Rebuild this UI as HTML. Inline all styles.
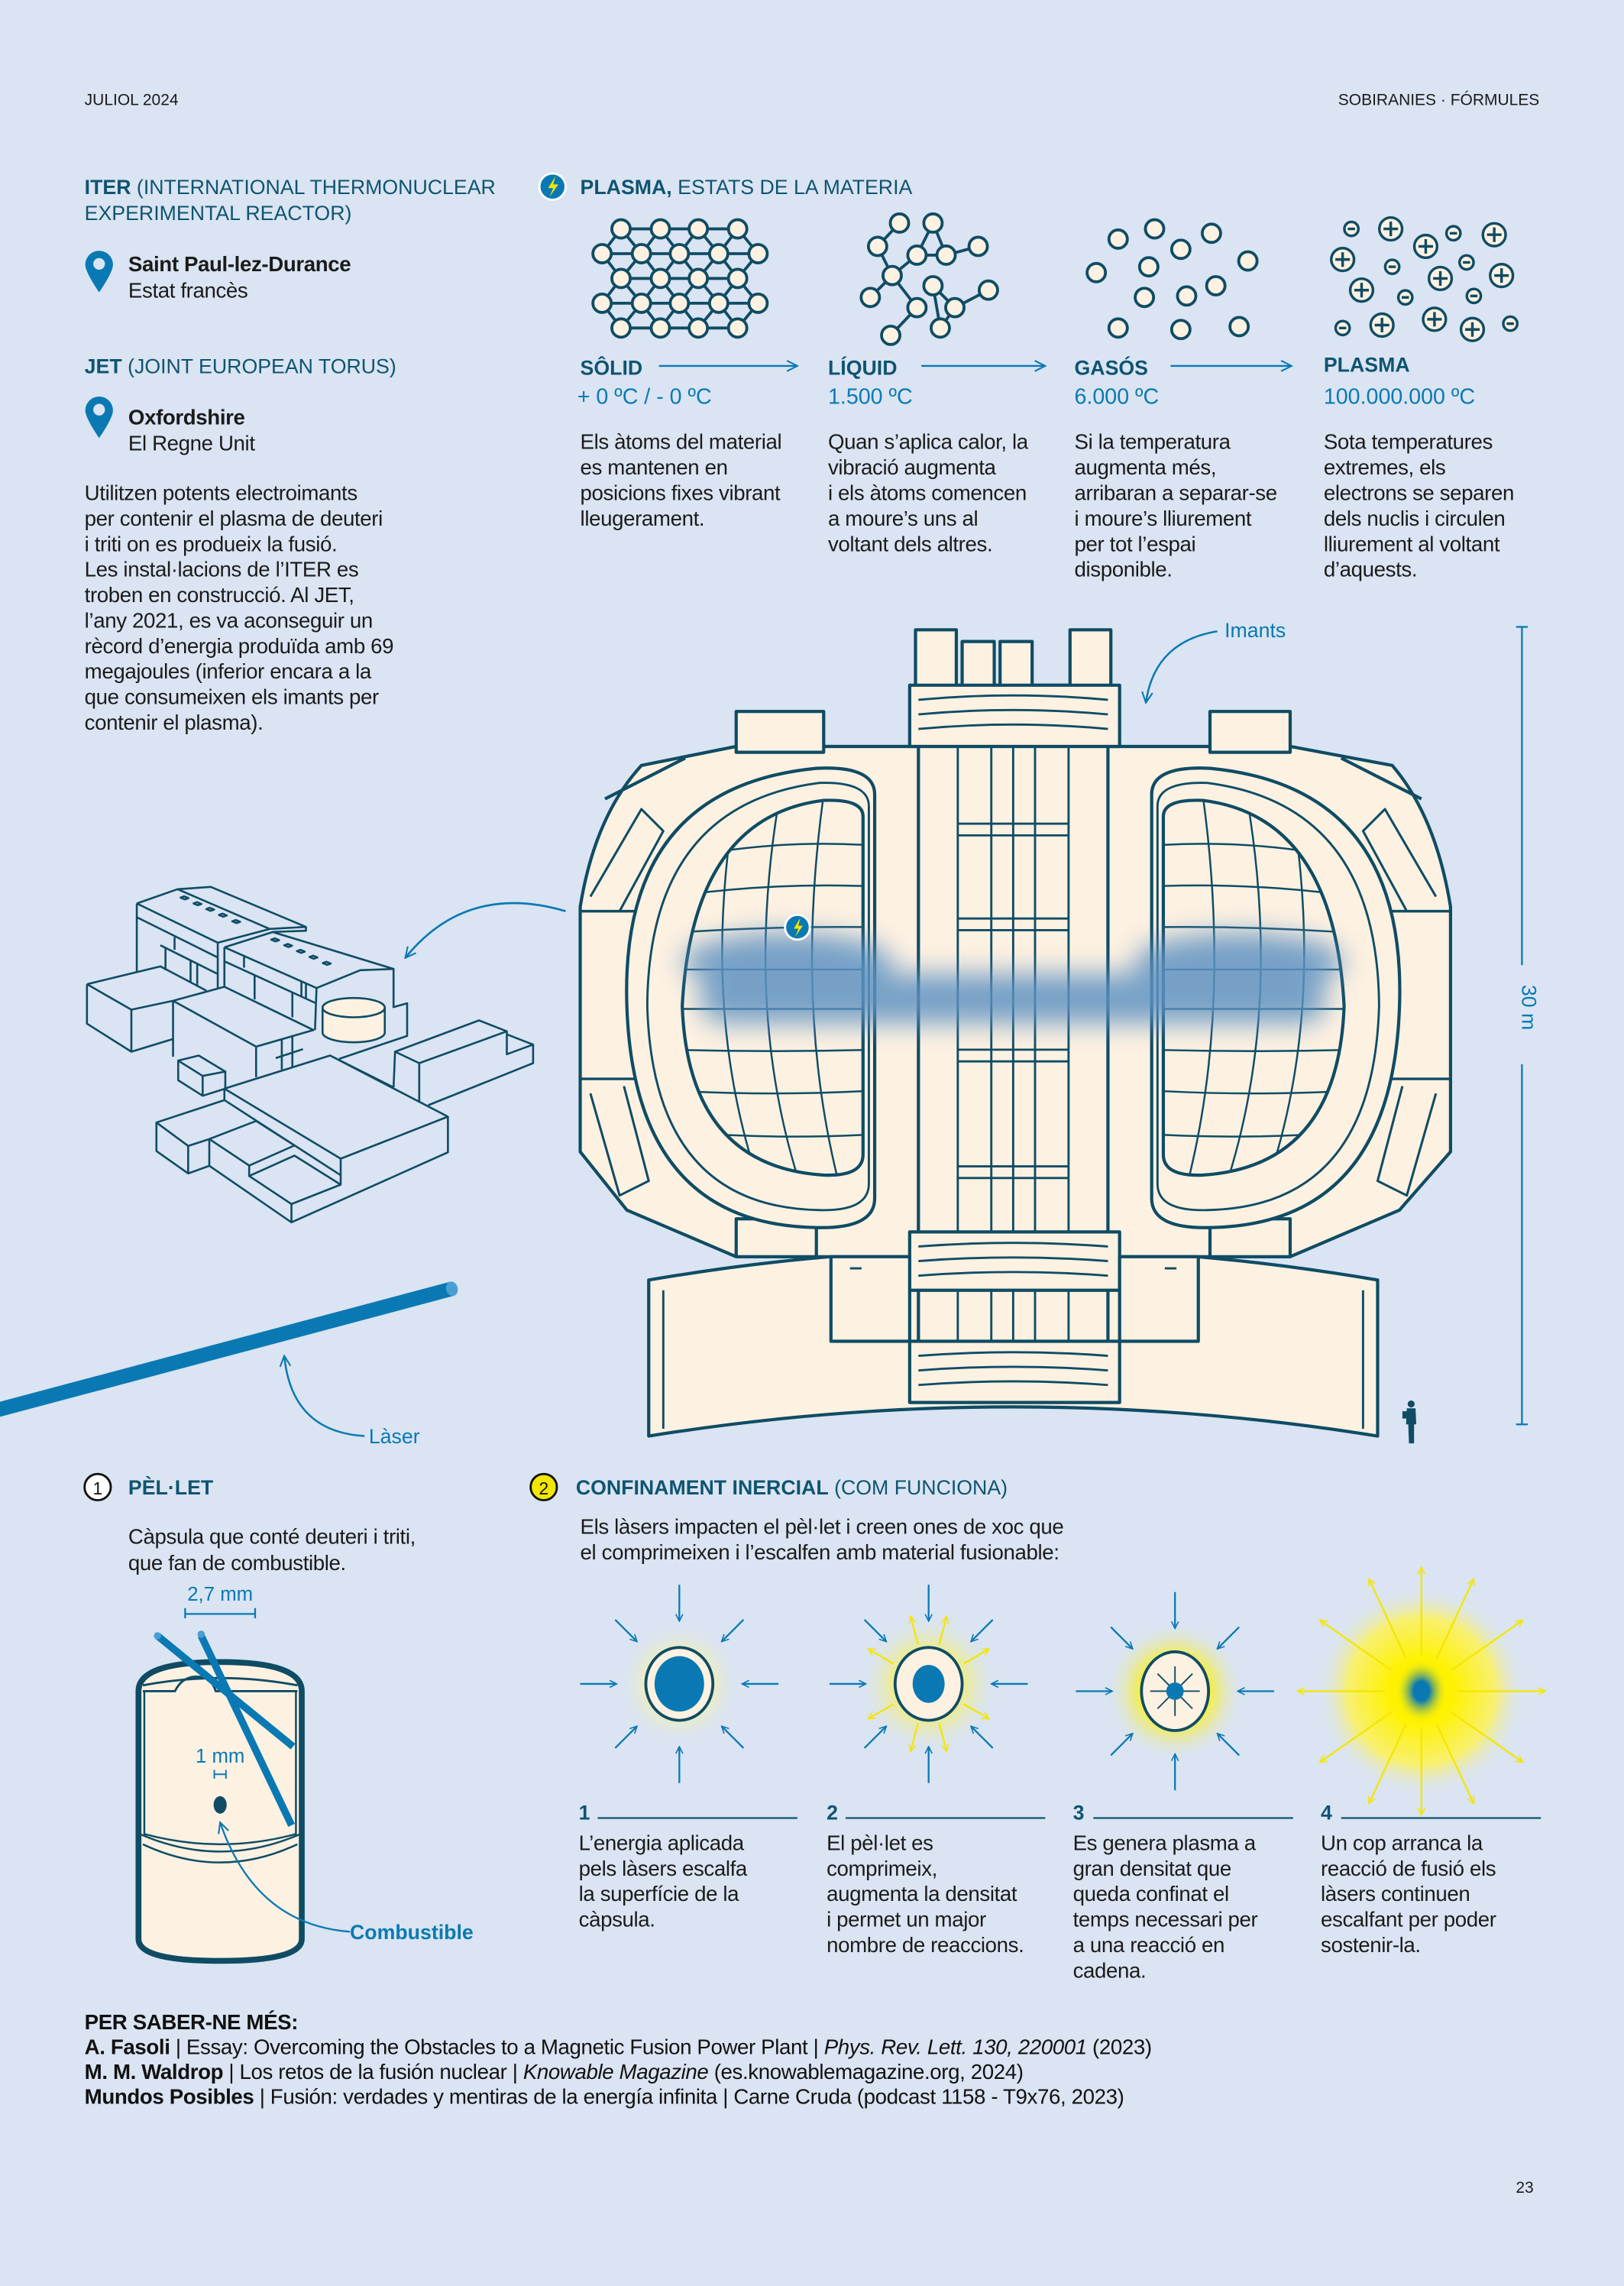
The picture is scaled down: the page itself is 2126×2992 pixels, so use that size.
<!DOCTYPE html>
<html><head><meta charset="utf-8">
<style>
html,body{margin:0;padding:0;background:#dae4f2;}
svg{display:block;}
text{font-family:"Liberation Sans",sans-serif;}
</style></head>
<body>
<svg width="2126" height="2992" viewBox="0 0 1114 1568" preserveAspectRatio="none" xmlns="http://www.w3.org/2000/svg">
<defs>
<marker id="ah" viewBox="0 0 10 10" refX="9" refY="5" markerWidth="6" markerHeight="6" orient="auto" markerUnits="userSpaceOnUse"><path d="M1,1 L9,5 L1,9" fill="none" stroke="#0a79b3" stroke-width="1.4"/></marker>
<marker id="ahy" viewBox="0 0 10 10" refX="9" refY="5" markerWidth="6" markerHeight="6" orient="auto" markerUnits="userSpaceOnUse"><path d="M1,1 L9,5 L1,9" fill="none" stroke="#f3e600" stroke-width="1.4"/></marker>
<marker id="ahb" viewBox="0 0 10 10" refX="9" refY="5" markerWidth="9" markerHeight="9" orient="auto" markerUnits="userSpaceOnUse"><path d="M1,1 L9,5 L1,9" fill="none" stroke="#0a79b3" stroke-width="1.2"/></marker>
<filter id="blur8" x="-30%" y="-100%" width="160%" height="300%"><feGaussianBlur stdDeviation="9"/></filter>
<radialGradient id="g1"><stop offset="0.45" stop-color="#f6f2a8"/><stop offset="1" stop-color="#dae4f2" stop-opacity="0"/></radialGradient>
<radialGradient id="g2"><stop offset="0.4" stop-color="#f8f060"/><stop offset="1" stop-color="#dae4f2" stop-opacity="0"/></radialGradient>
<radialGradient id="g3"><stop offset="0.45" stop-color="#fbf020"/><stop offset="1" stop-color="#dae4f2" stop-opacity="0"/></radialGradient>
<radialGradient id="g4"><stop offset="0.3" stop-color="#fff200"/><stop offset="0.7" stop-color="#f8f070"/><stop offset="1" stop-color="#dae4f2" stop-opacity="0"/></radialGradient>
<radialGradient id="core4"><stop offset="0.3" stop-color="#0a79b3"/><stop offset="1" stop-color="#fff200" stop-opacity="0"/></radialGradient>
<g id="inarr" stroke="#0a79b3" stroke-width="1.2" fill="none">
<line x1="0" y1="-68" x2="0" y2="-43" marker-end="url(#ah)"/>
<line x1="0" y1="68" x2="0" y2="43" marker-end="url(#ah)"/>
<line x1="-68" y1="0" x2="-43" y2="0" marker-end="url(#ah)"/>
<line x1="68" y1="0" x2="43" y2="0" marker-end="url(#ah)"/>
<line x1="-44" y1="-44" x2="-29" y2="-29" marker-end="url(#ah)"/>
<line x1="44" y1="-44" x2="29" y2="-29" marker-end="url(#ah)"/>
<line x1="-44" y1="44" x2="-29" y2="29" marker-end="url(#ah)"/>
<line x1="44" y1="44" x2="29" y2="29" marker-end="url(#ah)"/>
</g>
<g id="yo"><line x1="0" y1="-28" x2="0" y2="-48" stroke="#f3e600" stroke-width="1.2" marker-end="url(#ahy)"/></g>
<g id="yo4"><line x1="0" y1="-25" x2="0" y2="-85" stroke="#f3e600" stroke-width="1.2" marker-end="url(#ahy)"/></g>
<clipPath id="dclip"><path d="M592,560 Q592,548 565,549 Q475,560 468,690 Q472,800 565,806 Q592,807 592,792 Z"/></clipPath>
</defs>

<rect width="1114" height="1568" fill="#dae4f2"/>

<!-- header -->
<text x="58" y="72" font-size="11" fill="#1b1b1b">JULIOL 2024</text>
<text x="1056" y="72" font-size="11" fill="#1b1b1b" text-anchor="end">SOBIRANIES · FÓRMULES</text>
<text x="1052" y="1504" font-size="11" fill="#1b1b1b" text-anchor="end">23</text>

<!-- ITER / JET -->
<g font-size="14" fill="#0f5470">
<text x="58" y="133"><tspan font-weight="bold">ITER</tspan> (INTERNATIONAL THERMONUCLEAR</text>
<text x="58" y="151">EXPERIMENTAL REACTOR)</text>
<text x="58" y="256"><tspan font-weight="bold">JET</tspan>  (JOINT EUROPEAN TORUS)</text>
</g>
<g fill="#0a79b3">
<path d="M68,172 a9.5,9.5 0 0 1 9.5,9.5 q0,5 -9.5,19 q-9.5,-14 -9.5,-19 a9.5,9.5 0 0 1 9.5,-9.5 z"/>
<path d="M68,272 a9.5,9.5 0 0 1 9.5,9.5 q0,5 -9.5,19 q-9.5,-14 -9.5,-19 a9.5,9.5 0 0 1 9.5,-9.5 z"/>
</g>
<circle cx="68" cy="181" r="4" fill="#dae4f2"/><circle cx="68" cy="281" r="4" fill="#dae4f2"/>
<g font-size="14.5" fill="#1b1b1b" letter-spacing="-0.2">
<text x="88" y="186" font-weight="bold">Saint Paul-lez-Durance</text>
<text x="88" y="204">Estat francès</text>
<text x="88" y="291" font-weight="bold">Oxfordshire</text>
<text x="88" y="309">El Regne Unit</text>
<text x="58" y="343">Utilitzen potents electroimants</text>
<text x="58" y="360.5">per contenir el plasma de deuteri</text>
<text x="58" y="378">i triti on es produeix la fusió.</text>
<text x="58" y="395.5">Les instal·lacions de l’ITER es</text>
<text x="58" y="413">troben en construcció. Al JET,</text>
<text x="58" y="430.5">l’any 2021, es va aconseguir un</text>
<text x="58" y="448">rècord d’energia produïda amb 69</text>
<text x="58" y="465.5">megajoules (inferior encara a la</text>
<text x="58" y="483">que consumeixen els imants per</text>
<text x="58" y="500.5">contenir el plasma).</text>
</g>

<!-- PLASMA heading -->
<circle cx="379" cy="128" r="9" fill="#0a79b3" stroke="#fff" stroke-width="1.5"/>
<path d="M381,121 L376,129 L379.5,129 L377,135 L383,126.5 L379.5,126.5 Z" fill="#f3e600"/>
<text x="398" y="133" font-size="14" fill="#0f5470"><tspan font-weight="bold">PLASMA,</tspan> ESTATS DE LA MATERIA</text>

<!-- solid lattice -->
<g stroke="#0f4c64" stroke-width="2" fill="#fdf1e2">
<g fill="none">
<path d="M426,157 H506 M413,174 H520 M426,191 H506 M413,208 H520 M426,225 H506"/>
<path d="M426,157 L413,174 L426,191 L413,208 L426,225 M426,157 L440,174 L426,191 L440,208 L426,225 M453,157 L440,174 L453,191 L440,208 L453,225 M453,157 L466,174 L453,191 L466,208 L453,225 M479,157 L466,174 L479,191 L466,208 L479,225 M479,157 L493,174 L479,191 L493,208 L479,225 M506,157 L493,174 L506,191 L493,208 L506,225 M506,157 L520,174 L506,191 L520,208 L506,225"/>
</g>
<circle cx="426" cy="157" r="6.3"/><circle cx="453" cy="157" r="6.3"/><circle cx="479" cy="157" r="6.3"/><circle cx="506" cy="157" r="6.3"/>
<circle cx="413" cy="174" r="6.3"/><circle cx="440" cy="174" r="6.3"/><circle cx="466" cy="174" r="6.3"/><circle cx="493" cy="174" r="6.3"/><circle cx="520" cy="174" r="6.3"/>
<circle cx="426" cy="191" r="6.3"/><circle cx="453" cy="191" r="6.3"/><circle cx="479" cy="191" r="6.3"/><circle cx="506" cy="191" r="6.3"/>
<circle cx="413" cy="208" r="6.3"/><circle cx="440" cy="208" r="6.3"/><circle cx="466" cy="208" r="6.3"/><circle cx="493" cy="208" r="6.3"/><circle cx="520" cy="208" r="6.3"/>
<circle cx="426" cy="225" r="6.3"/><circle cx="453" cy="225" r="6.3"/><circle cx="479" cy="225" r="6.3"/><circle cx="506" cy="225" r="6.3"/>
</g>
<!-- liquid -->
<g stroke="#0f4c64" stroke-width="2" fill="#fdf1e2">
<path fill="none" d="M617,153 L602,169 L612,189 L597,204 M640,153 L629,175 L649,175 L640,153 M649,175 L671,169 M629,175 L612,189 L629,211 L611,230 M640,196 L655,211 L678,199 M640,196 L645,225 M655,211 L645,225"/>
<circle cx="617" cy="153" r="6.3"/><circle cx="640" cy="153" r="6.3"/><circle cx="602" cy="169" r="6.3"/><circle cx="629" cy="175" r="6.3"/><circle cx="649" cy="175" r="6.3"/><circle cx="671" cy="169" r="6.3"/><circle cx="612" cy="189" r="6.3"/><circle cx="597" cy="204" r="6.3"/><circle cx="640" cy="196" r="6.3"/><circle cx="629" cy="211" r="6.3"/><circle cx="655" cy="211" r="6.3"/><circle cx="678" cy="199" r="6.3"/><circle cx="611" cy="230" r="6.3"/><circle cx="645" cy="225" r="6.3"/>
</g>
<!-- gas -->
<g stroke="#0f4c64" stroke-width="2" fill="#fdf1e2">
<circle cx="767" cy="164" r="6.3"/><circle cx="792" cy="157" r="6.3"/><circle cx="831" cy="160" r="6.3"/><circle cx="810" cy="171" r="6.3"/><circle cx="856" cy="179" r="6.3"/><circle cx="752" cy="187" r="6.3"/><circle cx="788" cy="183" r="6.3"/><circle cx="834" cy="196" r="6.3"/><circle cx="785" cy="204" r="6.3"/><circle cx="814" cy="203" r="6.3"/><circle cx="767" cy="225" r="6.3"/><circle cx="810" cy="226" r="6.3"/><circle cx="850" cy="224" r="6.3"/>
</g>
<!-- plasma ions -->
<g stroke="#0f4c64" stroke-width="1.8" fill="#fdf1e2">
<g id="pl"></g>
<circle cx="954" cy="157" r="7.8"/><circle cx="978" cy="169" r="7.8"/><circle cx="1025" cy="161" r="7.8"/><circle cx="921" cy="178" r="7.8"/><circle cx="988" cy="191" r="7.8"/><circle cx="1030" cy="189" r="7.8"/><circle cx="934" cy="199" r="7.8"/><circle cx="948" cy="223" r="7.8"/><circle cx="984" cy="219" r="7.8"/><circle cx="1010" cy="226" r="7.8"/>
<path fill="none" d="M949,157h10M954,152v10 M973,169h10M978,164v10 M1020,161h10M1025,156v10 M916,178h10M921,173v10 M983,191h10M988,186v10 M1025,189h10M1030,184v10 M929,199h10M934,194v10 M943,223h10M948,218v10 M979,219h10M984,214v10 M1005,226h10M1010,221v10"/>
<circle cx="927" cy="157" r="4.8"/><circle cx="997" cy="160" r="4.8"/><circle cx="955" cy="183" r="4.8"/><circle cx="1006" cy="180" r="4.8"/><circle cx="964" cy="204" r="4.8"/><circle cx="1011" cy="203" r="4.8"/><circle cx="921" cy="225" r="4.8"/><circle cx="1036" cy="222" r="4.8"/>
<path fill="none" d="M924.5,157h5 M994.5,160h5 M952.5,183h5 M1003.5,180h5 M961.5,204h5 M1008.5,203h5 M918.5,225h5 M1033.5,222h5"/>
</g>

<!-- state labels -->
<g font-size="14" font-weight="bold" fill="#0f5470">
<text x="398" y="257">SÔLID</text><text x="568" y="257">LÍQUID</text><text x="737" y="257">GASÓS</text><text x="908" y="255">PLASMA</text>
</g>
<g stroke="#0a79b3" stroke-width="1.2" fill="none">
<line x1="452" y1="251" x2="547" y2="251" marker-end="url(#ahb)"/>
<line x1="632" y1="251" x2="717" y2="251" marker-end="url(#ahb)"/>
<line x1="803" y1="251" x2="886" y2="251" marker-end="url(#ahb)"/>
</g>
<g font-size="15" fill="#0a79b3">
<text x="396" y="277">+ 0 ºC / - 0 ºC</text><text x="568" y="277">1.500 ºC</text><text x="737" y="277">6.000 ºC</text><text x="908" y="277">100.000.000 ºC</text>
</g>
<g font-size="14.5" fill="#1b1b1b" letter-spacing="-0.2">
<text x="398" y="308">Els àtoms del material</text><text x="398" y="325.5">es mantenen en</text><text x="398" y="343">posicions fixes vibrant</text><text x="398" y="360.5">lleugerament.</text>
<text x="568" y="308">Quan s’aplica calor, la</text><text x="568" y="325.5">vibració augmenta</text><text x="568" y="343">i els àtoms comencen</text><text x="568" y="360.5">a moure’s uns al</text><text x="568" y="378">voltant dels altres.</text>
<text x="737" y="308">Si la temperatura</text><text x="737" y="325.5">augmenta més,</text><text x="737" y="343">arribaran a separar-se</text><text x="737" y="360.5">i moure’s lliurement</text><text x="737" y="378">per tot l’espai</text><text x="737" y="395.5">disponible.</text>
<text x="908" y="308">Sota temperatures</text><text x="908" y="325.5">extremes, els</text><text x="908" y="343">electrons se separen</text><text x="908" y="360.5">dels nuclis i circulen</text><text x="908" y="378">lliurement al voltant</text><text x="908" y="395.5">d’aquests.</text>
</g>

<!-- REACTOR -->
<g stroke="#0f4c64" stroke-width="2.2" fill="#fdf1e2" stroke-linejoin="round">
<!-- base ring -->
<path d="M445,878 Q695,835 945,878 L945,985 Q695,945 445,985 Z"/>
<path d="M455,885 L455,980 M935,885 L935,980" fill="none" stroke-width="1.5"/>
<!-- body -->
<path d="M505,512 L885,512 L955,525 Q985,560 995,622 L995,790 L960,830 L885,862 L505,862 L430,830 L398,790 L398,622 Q408,560 440,525 Z"/>
<path d="M415,548 L470,520 M975,548 L920,520" fill="none"/>
<rect x="505" y="488" width="60" height="28"/><rect x="830" y="488" width="55" height="28"/>
<rect x="505" y="836" width="55" height="26"/><rect x="830" y="836" width="55" height="26"/>
<!-- side ports left -->
<path d="M398,625 L470,625 L470,740 L398,740" fill="none" stroke-width="1.8"/>
<path d="M405,615 L440,555 L455,570 L425,625" fill="none" stroke-width="1.6"/>
<path d="M405,750 L425,820 L445,810 L428,745" fill="none" stroke-width="1.6"/>
<path d="M995,625 L920,625 L920,740 L995,740" fill="none" stroke-width="1.8"/>
<path d="M985,615 L950,555 L935,570 L965,625" fill="none" stroke-width="1.6"/>
<path d="M985,750 L965,820 L945,810 L962,745" fill="none" stroke-width="1.6"/>
<!-- D shapes -->
<g id="dleft">
<path d="M600,545 Q600,525 560,527 Q425,540 430,690 Q435,840 560,842 Q600,843 600,822 Z"/>
<path d="M596,553 Q596,536 562,537 Q445,552 444,690 Q448,828 562,830 Q596,831 596,812 Z" fill="none" stroke-width="1.5"/>
<path d="M592,560 Q592,548 565,549 Q475,560 468,690 Q472,800 565,806 Q592,807 592,792 Z"/>
<g clip-path="url(#dclip)" fill="none" stroke-width="1.3">
<path d="M460,590 Q530,575 600,580 M460,615 Q530,605 600,608 M460,640 Q530,635 600,636 M460,665 L600,665 M460,692 L600,692 M460,720 Q530,722 600,720 M460,748 Q530,752 600,748 M460,776 Q530,782 600,778"/>
<path d="M505,545 Q480,690 520,810 M535,545 Q510,690 548,810 M565,545 Q545,690 575,810"/>
</g>
</g>
<use href="#dleft" transform="translate(1390,0) scale(-1,1)"/>
<!-- column -->
<rect x="630" y="470" width="130" height="490"/>
<path d="M657,505 V955 M733,505 V955 M680,510 V950 M695,510 V950 M710,510 V950" fill="none" stroke-width="1.5"/>
<path d="M657,565 H733 M657,573 H733 M657,630 H733 M657,638 H733 M657,720 H733 M657,728 H733 M657,800 H733 M657,808 H733" fill="none" stroke-width="1.5"/>
<rect x="628" y="432" width="28" height="45"/><rect x="660" y="440" width="22" height="40"/><rect x="686" y="440" width="22" height="40"/><rect x="734" y="432" width="28" height="45"/>
<rect x="624" y="470" width="144" height="42"/>
<path d="M630,480 Q695,474 760,480 M630,490 Q695,484 760,490 M630,500 Q695,494 760,500" fill="none" stroke-width="1.5"/>
<rect x="624" y="845" width="144" height="40"/>
<path d="M630,855 Q695,850 760,855 M630,865 Q695,860 760,865 M630,875 Q695,870 760,875" fill="none" stroke-width="1.5"/>
<rect x="624" y="920" width="144" height="42"/>
<path d="M630,930 Q695,925 760,930 M630,940 Q695,935 760,940 M630,950 Q695,945 760,950" fill="none" stroke-width="1.5"/>
<rect x="570" y="862" width="54" height="58"/><rect x="768" y="862" width="54" height="58"/>
<path d="M583,870 H591 M799,870 H807" fill="none" stroke-width="1.5"/>
</g>
<!-- plasma glow -->
<g filter="url(#blur8)" fill="#5f93c2" opacity="0.85">
<ellipse cx="540" cy="660" rx="72" ry="20"/><ellipse cx="850" cy="660" rx="72" ry="20"/>
<rect x="480" y="668" width="430" height="34" rx="17"/>
</g>
<circle cx="547" cy="636" r="8.5" fill="#0a79b3" stroke="#fff" stroke-width="1.5"/>
<path d="M549,629.5 L544.5,637 L547.7,637 L545.5,642.5 L550.7,635 L547.6,635 Z" fill="#f3e600"/>
<!-- Imants -->
<text x="840" y="437" font-size="14" fill="#0a79b3">Imants</text>
<path d="M835,433 Q792,440 786,482" fill="none" stroke="#0a79b3" stroke-width="1.3" marker-end="url(#ahb)"/>
<!-- 30 m -->
<g stroke="#0a79b3" stroke-width="1.2"><line x1="1044" y1="430" x2="1044" y2="662"/><line x1="1044" y1="730" x2="1044" y2="977"/><line x1="1040" y1="430" x2="1048" y2="430"/><line x1="1040" y1="977" x2="1048" y2="977"/></g>
<text x="1039" y="696" font-size="14" fill="#0a79b3" text-anchor="middle" transform="rotate(90 1044 696)">30 m</text>
<!-- person -->
<g fill="#0f4c64"><circle cx="968" cy="963" r="2.4"/><path d="M965,966 H971 L971.5,977 L970,977 L970,990 L966.5,990 L966,977 L964.5,977 Z"/><rect x="962" y="968" width="3" height="5"/></g>

<!-- buildings -->
<g transform="translate(52.4,592.1) scale(0.2072,0.1747)" fill="none" stroke="#0f4c64" stroke-width="2.6" vector-effect="non-scaling-stroke" stroke-linejoin="round">
<g vector-effect="non-scaling-stroke">
<path vector-effect="non-scaling-stroke" d="M200,158 L335,102 L445,93 L760,250 L760,265 L650,270 M335,102 L640,258 L760,250 M200,158 L468,312 L640,258 M200,212 L468,370 M200,158 L200,425 M468,312 L468,490 M325,290 L325,340 M278,322 L468,435 M295,330 L295,420 M378,380 L378,470 M400,395 L400,480"/>
<path vector-effect="non-scaling-stroke" d="M490,330 L650,270 L1050,415 L940,420 L795,490 L490,330 M490,330 L490,485 M490,385 L790,548 M795,490 L790,655 M1050,415 L1050,565 L1095,550 L1095,678 L870,768 M555,360 L555,410 M590,440 L590,535 M715,510 L715,605 M745,465 L745,525 M760,470 L760,530"/>
<path vector-effect="non-scaling-stroke" d="M35,475 L278,405 L430,500 M35,475 L182,575 L320,540 M35,475 L35,630 L182,740 L320,690 M182,575 L182,740"/>
<path vector-effect="non-scaling-stroke" d="M320,540 L490,485 L785,655 L595,720 L320,540 M320,540 L320,760 M595,720 L595,840 M680,690 L680,810 M715,680 L715,800 M660,765 L750,730"/>
<path vector-effect="non-scaling-stroke" d="M337,775 L405,755 L493,818 L418,835 Z M337,775 L337,852 L418,913 L493,885 L493,818 M418,835 L418,913"/>
<path vector-effect="non-scaling-stroke" d="M490,885 L840,755 L1230,995 L875,1160 Z M1230,995 L1230,1135 L712,1410 L712,1338 L875,1262 L875,1160 M490,885 L490,930 L265,1018 L370,1110 L440,1083 L595,1012 L722,1108 L572,1187 L440,1083 M265,1018 L265,1130 L370,1218 L440,1188 L712,1410 M370,1110 L370,1218 M440,1083 L440,1188 M572,1187 L572,1228 L712,1338 M572,1228 L722,1148 L875,1262 M490,930 L875,1225 M840,755 L1050,880"/>
<path vector-effect="non-scaling-stroke" d="M1055,740 L1333,617 L1425,660 L1135,785 Z M1055,740 L1050,880 M1135,785 L1135,940 M1425,660 L1425,750 L1512,712 L1512,785 L1165,950 M1425,672 L1512,712"/>
</g>
<path vector-effect="non-scaling-stroke" d="M815,567 L815,665 A103,38 0 0 0 1021,665 L1021,567 Z" fill="#fdf1e2"/>
<ellipse vector-effect="non-scaling-stroke" cx="918" cy="567" rx="103" ry="38" fill="#fdf1e2"/>
<g fill="#dae4f2" vector-effect="non-scaling-stroke">
<path vector-effect="non-scaling-stroke" d="M345,135 l12,-5 l14,7 l-12,5 z M388,158 l12,-5 l14,7 l-12,5 z M430,180 l12,-5 l14,7 l-12,5 z M472,203 l12,-5 l14,7 l-12,5 z M516,228 l12,-5 l14,7 l-12,5 z M645,300 l12,-5 l14,7 l-12,5 z M688,322 l12,-5 l14,7 l-12,5 z M730,345 l12,-5 l14,7 l-12,5 z M772,368 l12,-5 l14,7 l-12,5 z M816,392 l12,-5 l14,7 l-12,5 z"/>
</g>
</g>
<path d="M388,625 Q320,605 278,657" fill="none" stroke="#0a79b3" stroke-width="1.4" marker-end="url(#ahb)"/>

<!-- laser -->
<line x1="-5" y1="968" x2="310" y2="884" stroke="#0a79b3" stroke-width="10"/>
<ellipse cx="310" cy="884" rx="4" ry="5" fill="#4a9fd0" transform="rotate(-15 310 884)"/>
<path d="M250,985 Q200,982 195,930" fill="none" stroke="#0a79b3" stroke-width="1.3" marker-end="url(#ahb)"/>
<text x="253" y="990" font-size="14" fill="#0a79b3">Làser</text>

<!-- PELLET section -->
<circle cx="67" cy="1020" r="9" fill="#fff" stroke="#111" stroke-width="1.5"/>
<text x="67" y="1025" font-size="12" text-anchor="middle" fill="#111">1</text>
<text x="88" y="1025" font-size="14" font-weight="bold" fill="#0f5470">PÈL·LET</text>
<g font-size="14.5" fill="#1b1b1b" letter-spacing="-0.2">
<text x="88" y="1059">Càpsula que conté deuteri i triti,</text>
<text x="88" y="1077">que fan de combustible.</text>
</g>
<text x="151" y="1098" font-size="13.5" fill="#0a79b3" text-anchor="middle">2,7 mm</text>
<path d="M127,1103 V1110 M175,1103 V1110 M127,1107 H175" stroke="#0a79b3" stroke-width="1.2"/>
<!-- cylinder -->
<path d="M95,1160 Q95,1140 151,1140 Q207,1140 207,1160 L207,1330 Q207,1345 151,1345 Q95,1345 95,1330 Z" fill="#fdf1e2" stroke="#0f4c64" stroke-width="4"/>
<path d="M98,1156 Q151,1146 204,1156" fill="none" stroke="#0f4c64" stroke-width="1.5"/>
<path d="M98,1160 H120 Q125,1150 135,1150 Q145,1150 148,1160 H204" fill="none" stroke="#0f4c64" stroke-width="1.5"/>
<path d="M99,1160 V1258 Q151,1272 203,1258 V1160" fill="none" stroke="#0f4c64" stroke-width="1.3"/>
<path d="M96,1258 Q151,1282 206,1258 M98,1265 Q151,1290 204,1265" fill="none" stroke="#0f4c64" stroke-width="1.3"/>
<line x1="108" y1="1122" x2="201" y2="1198" stroke="#0a79b3" stroke-width="5"/>
<line x1="138" y1="1122" x2="200" y2="1252" stroke="#0a79b3" stroke-width="5"/>
<circle cx="108" cy="1122" r="2.5" fill="#4a9fd0"/><circle cx="138" cy="1121" r="2.5" fill="#4a9fd0"/>
<text x="151" y="1209" font-size="13.5" fill="#0a79b3" text-anchor="middle">1 mm</text>
<path d="M147,1214 V1220 M155,1214 V1220 M147,1217 H155" stroke="#0a79b3" stroke-width="1"/>
<ellipse cx="151" cy="1238" rx="4.5" ry="6" fill="#0f4c64"/>
<path d="M240,1325 Q175,1320 151,1250" fill="none" stroke="#0a79b3" stroke-width="1.2" marker-end="url(#ahb)"/>
<text x="240" y="1330" font-size="14" font-weight="bold" fill="#0a79b3">Combustible</text>

<!-- CONFINAMENT -->
<circle cx="373" cy="1020" r="9" fill="#f3e600" stroke="#111" stroke-width="1.5"/>
<text x="373" y="1025" font-size="12" text-anchor="middle" fill="#111">2</text>
<text x="395" y="1025" font-size="14" fill="#0f5470"><tspan font-weight="bold">CONFINAMENT INERCIAL</tspan> (COM FUNCIONA)</text>
<g font-size="14.5" fill="#1b1b1b" letter-spacing="-0.2">
<text x="398" y="1052">Els làsers impacten el pèl·let i creen ones de xoc que</text>
<text x="398" y="1069.5">el comprimeixen i l’escalfen amb material fusionable:</text>
</g>
<!-- d1 -->
<circle cx="466" cy="1155" r="42" fill="url(#g1)"/>
<ellipse cx="466" cy="1155" rx="23" ry="25" fill="#fdf1e2" stroke="#0f4c64" stroke-width="2"/>
<ellipse cx="466" cy="1155" rx="17" ry="19" fill="#0a79b3"/>
<use href="#inarr" transform="translate(466,1155)"/>
<!-- d2 -->
<circle cx="637" cy="1155" r="48" fill="url(#g2)"/>
<g transform="translate(637,1155)"><use href="#yo" transform="rotate(15)"/><use href="#yo" transform="rotate(-15)"/><use href="#yo" transform="rotate(60)"/><use href="#yo" transform="rotate(120)"/><use href="#yo" transform="rotate(165)"/><use href="#yo" transform="rotate(195)"/><use href="#yo" transform="rotate(240)"/><use href="#yo" transform="rotate(300)"/></g>
<ellipse cx="637" cy="1155" rx="23" ry="25" fill="#fdf1e2" stroke="#0f4c64" stroke-width="2"/>
<ellipse cx="637" cy="1155" rx="11" ry="13" fill="#0a79b3"/>
<use href="#inarr" transform="translate(637,1155)"/>
<!-- d3 -->
<circle cx="806" cy="1160" r="48" fill="url(#g3)"/>
<ellipse cx="806" cy="1160" rx="23" ry="27" fill="#fdf1e2" stroke="#0f4c64" stroke-width="2"/>
<g stroke="#0f4c64" stroke-width="1"><path d="M806,1143 V1177 M789,1160 H823 M794,1148 L818,1172 M818,1148 L794,1172"/></g>
<circle cx="806" cy="1160" r="6" fill="#0a79b3"/>
<use href="#inarr" transform="translate(806,1160)"/>
<!-- d4 -->
<circle cx="975" cy="1160" r="72" fill="url(#g4)"/>
<g transform="translate(975,1160)"><use href="#yo4" transform="rotate(0)"/><use href="#yo4" transform="rotate(25)"/><use href="#yo4" transform="rotate(55)"/><use href="#yo4" transform="rotate(90)"/><use href="#yo4" transform="rotate(125)"/><use href="#yo4" transform="rotate(155)"/><use href="#yo4" transform="rotate(180)"/><use href="#yo4" transform="rotate(205)"/><use href="#yo4" transform="rotate(235)"/><use href="#yo4" transform="rotate(270)"/><use href="#yo4" transform="rotate(305)"/><use href="#yo4" transform="rotate(335)"/></g>
<ellipse cx="975" cy="1160" rx="18" ry="22" fill="url(#core4)"/>

<!-- steps -->
<g font-size="14" font-weight="bold" fill="#0f5470"><text x="397" y="1248">1</text><text x="567" y="1248">2</text><text x="736" y="1248">3</text><text x="906" y="1248">4</text></g>
<g stroke="#0f5470" stroke-width="1.2"><line x1="410" y1="1247" x2="547" y2="1247"/><line x1="580" y1="1247" x2="717" y2="1247"/><line x1="750" y1="1247" x2="887" y2="1247"/><line x1="920" y1="1247" x2="1057" y2="1247"/></g>
<g font-size="14.5" fill="#1b1b1b" letter-spacing="-0.2">
<text x="397" y="1269">L’energia aplicada</text><text x="397" y="1286.5">pels làsers escalfa</text><text x="397" y="1304">la superfície de la</text><text x="397" y="1321.5">càpsula.</text>
<text x="567" y="1269">El pèl·let es</text><text x="567" y="1286.5">comprimeix,</text><text x="567" y="1304">augmenta la densitat</text><text x="567" y="1321.5">i permet un major</text><text x="567" y="1339">nombre de reaccions.</text>
<text x="736" y="1269">Es genera plasma a</text><text x="736" y="1286.5">gran densitat que</text><text x="736" y="1304">queda confinat el</text><text x="736" y="1321.5">temps necessari per</text><text x="736" y="1339">a una reacció en</text><text x="736" y="1356.5">cadena.</text>
<text x="906" y="1269">Un cop arranca la</text><text x="906" y="1286.5">reacció de fusió els</text><text x="906" y="1304">làsers continuen</text><text x="906" y="1321.5">escalfant per poder</text><text x="906" y="1339">sostenir-la.</text>
</g>

<!-- references -->
<g font-size="14.5" fill="#111" letter-spacing="-0.2">
<text x="58" y="1392" font-weight="bold">PER SABER-NE MÉS:</text>
<text x="58" y="1409"><tspan font-weight="bold">A. Fasoli</tspan> | Essay: Overcoming the Obstacles to a Magnetic Fusion Power Plant | <tspan font-style="italic">Phys. Rev. Lett. 130, 220001</tspan> (2023)</text>
<text x="58" y="1426"><tspan font-weight="bold">M. M. Waldrop</tspan> | Los retos de la fusión nuclear | <tspan font-style="italic">Knowable Magazine</tspan> (es.knowablemagazine.org, 2024)</text>
<text x="58" y="1443"><tspan font-weight="bold">Mundos Posibles</tspan> | Fusión: verdades y mentiras de la energía infinita | Carne Cruda (podcast 1158 - T9x76, 2023)</text>
</g>
</svg>
</body></html>
